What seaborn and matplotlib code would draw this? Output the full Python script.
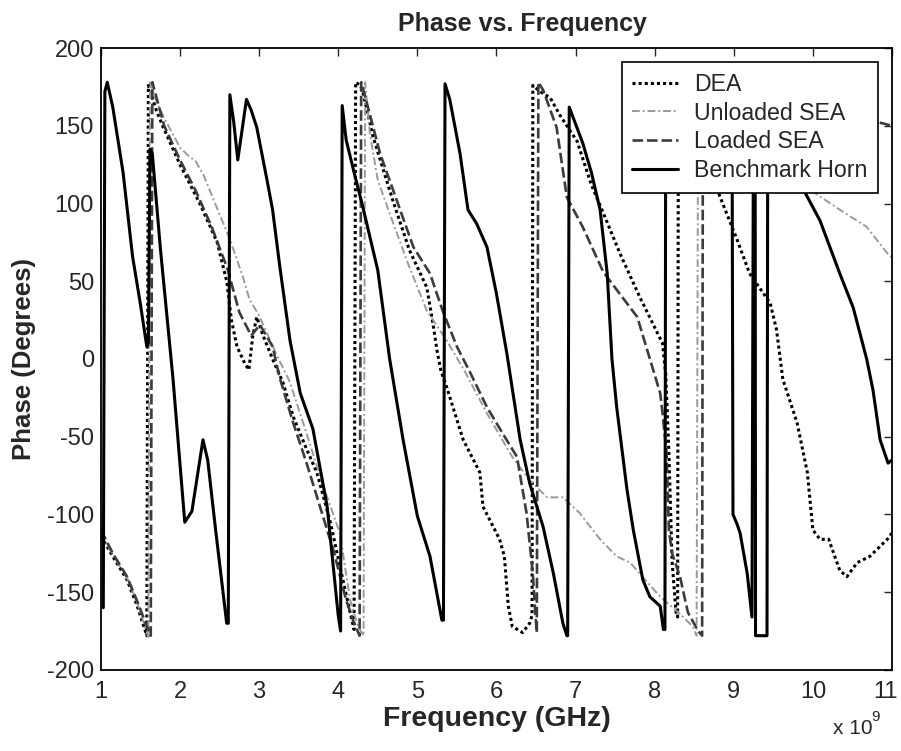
import matplotlib
matplotlib.use("Agg")
import matplotlib.pyplot as plt
import matplotlib.transforms as mtransforms
import pandas as pd
import seaborn as sns

# Phase (degrees) vs frequency (GHz)
dea = [(1.0, -114), (1.15, -127), (1.33, -142), (1.46, -159), (1.53, -170), (1.58, -178),
       (1.60, 176), (1.7, 160), (1.78, 150), (2.0, 125), (2.25, 100), (2.47, 75), (2.59, 50),
       (2.65, 25), (2.72, 8), (2.82, -3), (2.87, -7), (2.92, 15), (2.97, 27), (3.05, 15),
       (3.17, 0), (3.3, -15), (3.43, -37), (3.6, -58), (3.73, -73), (3.9, -105), (4.05, -140),
       (4.15, -163), (4.2, -174), (4.22, 178), (4.28, 176), (4.31, 172), (4.44, 143),
       (4.69, 102), (4.9, 70), (5.12, 46), (5.2, 22), (5.25, 5), (5.3, -8), (5.37, -18),
       (5.58, -52), (5.79, -73), (5.83, -95), (6.04, -116), (6.1, -127), (6.15, -159),
       (6.2, -172), (6.33, -176), (6.42, -170), (6.45, -165), (6.46, 176), (6.55, 172),
       (6.68, 168), (6.8, 157), (7.02, 140), (7.2, 112), (7.35, 94), (7.56, 68), (7.81, 40),
       (8.1, 10), (8.14, -10), (8.18, -60), (8.22, -130), (8.27, -163), (8.29, -166),
       (8.30, 178), (8.79, 109), (9.04, 77), (9.2, 55), (9.46, 36), (9.54, 19), (9.62, -13),
       (9.8, -41), (9.93, -73), (10.0, -110), (10.09, -116), (10.2, -116), (10.34, -136),
       (10.43, -140), (10.56, -131), (10.72, -127), (10.94, -116), (11.0, -112)]

unloaded_sea = [(1.0, -112), (1.15, -126), (1.33, -141), (1.46, -157), (1.53, -168), (1.6, -179),
                (1.62, 178), (1.7, 166), (1.8, 155), (2.0, 136), (2.1, 131), (2.2, 127),
                (2.3, 118), (2.46, 98), (2.63, 77), (2.8, 52), (2.88, 38), (3.0, 28), (3.2, 5),
                (3.39, -15), (3.6, -48), (3.8, -80), (4.02, -112), (4.15, -155), (4.25, -172),
                (4.32, -178), (4.34, 178), (4.4, 145), (4.5, 115), (4.69, 88), (4.9, 59),
                (5.12, 31), (5.37, 12), (5.6, -8), (5.88, -35), (6.2, -63), (6.42, -78),
                (6.64, -89), (6.84, -89), (7.05, -99), (7.31, -116), (7.52, -127), (7.69, -131),
                (8.07, -153), (8.3, -163), (8.48, -172), (8.53, -178), (8.55, 178), (9.0, 150),
                (9.5, 125), (9.96, 109), (10.34, 96), (10.68, 85), (10.94, 68), (11.0, 65)]

loaded_sea = [(1.0, -110), (1.15, -125), (1.33, -140), (1.46, -156), (1.55, -168), (1.63, -178),
              (1.65, 178), (1.8, 150), (2.0, 128), (2.2, 108), (2.4, 85), (2.6, 58), (2.75, 30),
              (2.9, 15), (3.01, 22), (3.17, 8), (3.26, -12), (3.43, -41), (3.6, -67),
              (3.8, -100), (3.95, -125), (4.1, -155), (4.2, -170), (4.27, -178), (4.29, 178),
              (4.36, 165), (4.53, 132), (4.74, 102), (4.95, 72), (5.16, 55), (5.32, 31),
              (5.5, 8), (5.67, -9), (5.88, -31), (6.08, -48), (6.26, -63), (6.38, -99),
              (6.46, -138), (6.49, -163), (6.51, -176), (6.53, 178), (6.59, 173), (6.76, 149),
              (6.89, 104), (7.09, 85), (7.35, 56), (7.78, 27), (8.07, -22), (8.1, -35),
              (8.15, -60), (8.18, -110), (8.22, -125), (8.32, -140), (8.42, -163), (8.55, -175),
              (8.6, -178), (8.61, 178), (9.5, 168), (10.5, 157), (10.85, 152), (11.0, 150)]

benchmark_horn = [(1.03, -160), (1.05, 172), (1.08, 178), (1.15, 162), (1.28, 120), (1.40, 66),
                  (1.5, 35), (1.58, 8), (1.6, 10), (1.62, 135), (1.65, 132), (1.75, 72),
                  (1.91, -12), (2.06, -105), (2.15, -98), (2.22, -75), (2.29, -52), (2.35, -65),
                  (2.45, -110), (2.59, -170), (2.61, -170), (2.63, 170), (2.68, 152), (2.73, 128),
                  (2.84, 167), (2.9, 160), (2.97, 149), (3.1, 115), (3.17, 96), (3.26, 60),
                  (3.39, 12), (3.52, -22), (3.68, -45), (3.86, -95), (4.0, -165), (4.03, -175),
                  (4.05, 163), (4.1, 141), (4.2, 120), (4.31, 98), (4.5, 57), (4.65, 0),
                  (4.82, -52), (5.0, -101), (5.16, -127), (5.31, -168), (5.33, -168), (5.35, 177),
                  (5.41, 167), (5.54, 132), (5.64, 96), (5.75, 87), (5.88, 72), (6.0, 42),
                  (6.13, 4), (6.3, -52), (6.42, -80), (6.59, -108), (6.72, -138), (6.84, -170),
                  (6.89, -178), (6.9, -178), (6.92, 162), (7.09, 139), (7.2, 120), (7.31, 96),
                  (7.4, 55), (7.46, 0), (7.52, -31), (7.65, -84), (7.73, -110), (7.85, -142),
                  (7.94, -153), (8.07, -159), (8.11, -174), (8.13, -174), (8.14, 178),
                  (8.5, 150), (8.98, 115), (8.99, -100), (9.04, -106), (9.08, -112),
                  (9.17, -138), (9.23, -166), (9.25, 178), (9.27, 178), (9.275, -178),
                  (9.42, -178), (9.43, 178), (9.87, 110), (10.09, 89), (10.34, 55), (10.51, 33),
                  (10.68, 0), (10.76, -20), (10.85, -52), (10.95, -67), (11.0, -65)]

x_ticks = [1, 2, 3, 4, 5, 6, 7, 8, 9, 10, 11]
y_ticks = [-200, -150, -100, -50, 0, 50, 100, 150, 200]

sns.set_style("white")
plt.rcParams['font.family'] = ['Liberation Sans', 'DejaVu Sans']
plt.rcParams['axes.unicode_minus'] = False

fig = plt.figure(figsize=(9.01, 7.51), dpi=100)
ax = fig.add_axes([0.112, 0.108, 0.878, 0.828])

series = [
    ('DEA', dea, dict(color='black', linewidth=2.2, linestyle=(0, (1, 1)))),
    ('Unloaded SEA', unloaded_sea, dict(color='#9a9a9a', linewidth=1.4, linestyle=(0, (4, 1.5, 1, 1.5)))),
    ('Loaded SEA', loaded_sea, dict(color='#3c3c3c', linewidth=1.9, linestyle=(0, (4, 1.5)))),
    ('Benchmark Horn', benchmark_horn, dict(color='black', linewidth=2.2, linestyle='-')),
]

for name, pts, style in series:
    df = pd.DataFrame(pts, columns=['freq', 'phase'])
    sns.lineplot(data=df, x='freq', y='phase', sort=False, estimator=None, ax=ax, label=name, **style)

ax.set_xlim(1, 11)
ax.set_ylim(-200, 200)
ax.set_xticks(x_ticks)
ax.set_yticks(y_ticks)
ax.tick_params(direction='in', top=True, right=True, length=6, width=1, labelsize=17)
ax.tick_params(axis='x', pad=8)
ax.tick_params(axis='y', pad=5)
for sp in ax.spines.values():
    sp.set_linewidth(1.3)
    sp.set_color('black')

# keep the last x label inside the canvas
last = ax.get_xticklabels()[-1]
last.set_transform(last.get_transform() + mtransforms.ScaledTranslation(-5 / 72, 0, fig.dpi_scale_trans))

ax.set_title('Phase vs. Frequency', fontsize=18, fontweight='bold', pad=12, x=0.533)
ax.set_xlabel('Frequency (GHz)', fontsize=20.5, fontweight='bold', labelpad=2)
ax.set_ylabel('Phase (Degrees)', fontsize=18.5, fontweight='bold', labelpad=8)

fig.text(0.947, 0.022, 'x 10', fontsize=15, ha='center', va='baseline')
fig.text(0.972, 0.040, '9', fontsize=11, ha='center', va='baseline')

leg = ax.legend(loc='upper right', bbox_to_anchor=(0.982, 0.977), borderaxespad=0,
                frameon=True, fancybox=False, edgecolor='black', framealpha=1, fontsize=16.7,
                handlelength=1.95, handletextpad=0.7, labelspacing=0.25, borderpad=0.45)
leg.get_frame().set_linewidth(1.2)

fig.savefig('out.png', dpi=100, facecolor='white')
